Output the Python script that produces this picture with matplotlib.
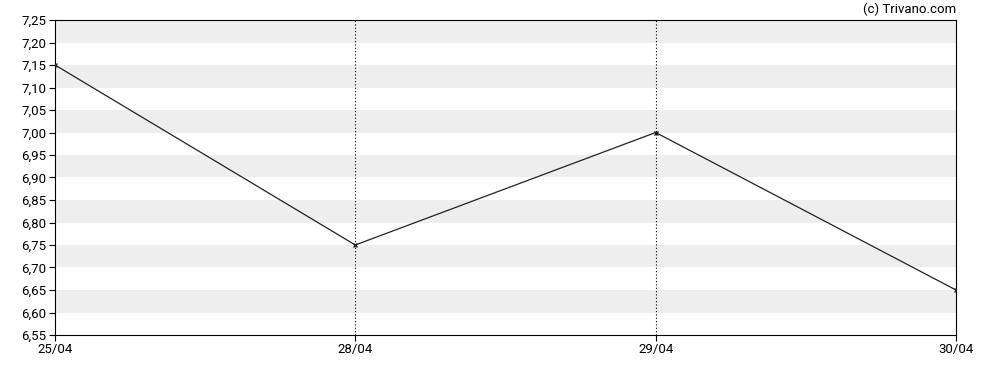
import numpy as np
import matplotlib
matplotlib.use("Agg")
import matplotlib.pyplot as plt
from matplotlib.ticker import FuncFormatter

dates = ["25/04", "28/04", "29/04", "30/04"]
prices = [7.15, 6.75, 7.00, 6.65]
y_min, y_max, y_step = 6.55, 7.25, 0.05

plt.rcParams["font.family"] = ["Roboto", "DejaVu Sans"]

fig = plt.figure(figsize=(9.88, 3.7), dpi=100)
ax = fig.add_axes([55 / 988, 1 - 335 / 370, (956 - 55) / 988, (335 - 20) / 370])

x = np.arange(len(dates))

# alternating grey bands, starting from the top
edges = np.round(np.arange(y_min, y_max + y_step / 2, y_step), 2)
for i in range(len(edges) - 1):
    lo, hi = edges[i], edges[i + 1]
    if i % 2 == 1:
        ax.axhspan(lo, hi, color="#eeeeee", lw=0, zorder=0)

for xi in x[1:-1]:
    ax.axvline(xi, color="black", lw=0.8, ls=(0, (1, 2)), zorder=1)

ax.plot(x, prices, color="#222222", lw=0.9, marker="x", ms=3.5, mew=1.0, zorder=3)

ax.set_xlim(x[0], x[-1])
ax.set_ylim(y_min, y_max)
ax.set_xticks(x)
ax.set_xticklabels(dates)
ax.set_yticks(edges)
ax.yaxis.set_major_formatter(FuncFormatter(lambda v, p: f"{v:.2f}".replace(".", ",")))
ax.tick_params(labelsize=9.5, length=4, width=0.8, colors="black", pad=2)

for s in ax.spines.values():
    s.set_linewidth(0.8)

fig.text(956 / 988, 1 - 9 / 370, "(c) Trivano.com", ha="right", va="center", fontsize=9.5)

fig.savefig("out.png", dpi=100)
